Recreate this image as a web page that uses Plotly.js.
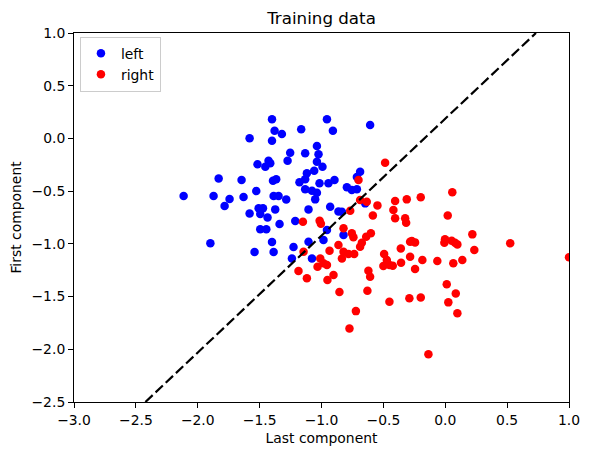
<!DOCTYPE html>
<html>
<head>
<meta charset="utf-8">
<script src="https://cdn.plot.ly/plotly-3.0.1.min.js"></script>
<style>html,body{margin:0;padding:0;background:#fff;}#chart{width:589px;height:455px;}</style>
</head>
<body>
<div id="chart"></div>
<script>
const leftX = [-1.400,-1.379,-1.320,-1.581,-1.400,-1.164,-1.253,-1.274,-1.517,-1.428,-1.454,-1.414,-1.831,-1.646,-1.392,-1.366,-1.178,-1.527,-2.114,-1.872,-1.743,-1.630,-1.387,-1.347,-1.285,-1.783,-1.581,-1.508,-1.473,-1.495,-1.436,-1.374,-1.339,-1.495,-1.446,-1.212,-1.898,-1.400,-1.541,-1.387,-1.226,-1.239,-0.956,-0.908,-0.607,-1.132,-1.037,-1.024,-1.037,-0.992,-1.118,-1.059,-1.132,-1.016,-0.944,-0.895,-1.132,-1.077,-1.037,-1.051,-0.795,-0.755,-0.714,-0.688,-0.714,-1.105,-0.930,-0.863,-0.835,-0.647,-0.956,-0.822,-0.984,-1.105,-1.077];
const leftY = [0.181,0.073,0.042,0.001,-0.022,0.086,-0.136,-0.212,-0.246,-0.212,-0.268,-0.236,-0.379,-0.395,-0.401,-0.388,-0.415,-0.499,-0.546,-0.546,-0.575,-0.556,-0.546,-0.546,-0.580,-0.641,-0.711,-0.663,-0.663,-0.717,-0.749,-0.673,-0.812,-0.862,-0.862,-0.784,-0.995,-0.983,-1.078,-1.078,-1.030,-1.138,0.181,0.073,0.127,-0.141,-0.072,-0.151,-0.221,-0.268,-0.331,-0.306,-0.388,-0.426,-0.426,-0.395,-0.483,-0.496,-0.515,-0.578,-0.464,-0.490,-0.483,-0.316,-0.365,-0.673,-0.648,-0.692,-0.695,-0.616,-0.869,-0.917,-0.964,-0.980,-1.138];

const rightX = [-0.486,-0.701,-0.688,-0.634,-0.548,-0.405,-0.311,-0.768,-0.585,-0.419,-1.150,-1.015,-1.005,-0.405,-0.324,-0.316,-0.822,-0.755,-0.742,-0.639,-0.601,-0.674,-0.688,-0.284,-0.863,-0.935,-1.145,-0.822,-0.782,-0.736,-0.835,-0.359,-0.494,-1.010,-0.984,-1.032,-0.956,-0.472,-0.451,-0.500,-0.424,-0.357,-0.284,-1.186,-1.118,-0.903,-0.952,-0.621,-0.607,-0.855,-0.629,-0.451,-0.290,-0.722,-0.774,0.057,-0.198,0.020,0.219,-0.270,-0.244,-0.002,-0.007,0.052,0.098,0.079,0.235,0.525,-0.185,-0.244,-0.064,0.065,0.138,1.000,0.012,0.085,0.025,0.098,-0.198,-0.136];
const rightY = [-0.231,-0.395,-0.584,-0.601,-0.635,-0.594,-0.578,-0.686,-0.730,-0.679,-0.790,-0.780,-0.810,-0.758,-0.758,-0.800,-0.853,-0.900,-0.938,-0.933,-0.900,-0.990,-1.028,-0.980,-1.011,-1.065,-1.075,-1.075,-1.097,-1.097,-1.138,-1.043,-1.097,-1.138,-1.185,-1.217,-1.201,-1.154,-1.201,-1.211,-1.208,-1.179,-1.122,-1.258,-1.327,-1.296,-1.343,-1.255,-1.312,-1.457,-1.445,-1.549,-1.517,-1.638,-1.802,-0.511,-0.559,-0.730,-0.910,-0.973,-0.986,-0.957,-0.990,-0.971,-1.005,-0.990,-1.059,-0.995,-1.154,-1.239,-1.163,-1.185,-1.154,-1.128,-1.384,-1.470,-1.555,-1.659,-1.508,-2.046];

const boundaryX = [-2.423, 0.733];
const boundaryY = [-2.5, 1.0];

const seriesNames = ['left', 'right'];
const xTickVals = [-3.0,-2.5,-2.0,-1.5,-1.0,-0.5,0.0,0.5,1.0];
const yTickVals = [-2.5,-2.0,-1.5,-1.0,-0.5,0.0,0.5,1.0];

const font = 'DejaVu Sans, sans-serif';

const traces = [
  {x: leftX, y: leftY, mode: 'markers', type: 'scatter', name: seriesNames[0],
   marker: {color: '#0000ff', size: 8.5}},
  {x: rightX, y: rightY, mode: 'markers', type: 'scatter', name: seriesNames[1],
   marker: {color: '#ff0000', size: 8.5}},
  {x: boundaryX, y: boundaryY, mode: 'lines', type: 'scatter', showlegend: false,
   line: {color: '#000000', width: 2.2, dash: '10px,4px'}, hoverinfo: 'skip'}
];

const axisCommon = {
  showgrid: false, zeroline: false, showline: true, mirror: true,
  linecolor: '#000', linewidth: 1, ticks: 'outside', ticklen: 5, tickwidth: 1,
  tickcolor: '#000', tickformat: '.1f', tickfont: {family: font, size: 13.9, color: '#000'},
  automargin: false
};

const layout = {
  width: 589, height: 455,
  margin: {l: 74, r: 20, t: 33, b: 53, pad: 0},
  paper_bgcolor: '#fff', plot_bgcolor: '#fff',
  font: {family: font, color: '#000'},
  title: {text: 'Training data', font: {family: font, size: 16.7, color: '#000'},
          x: 0.5, xref: 'paper', y: 1 - 18/455, yref: 'container', yanchor: 'middle'},
  xaxis: Object.assign({}, axisCommon, {
    range: [-3, 1], tickvals: xTickVals,
    title: {text: 'Last component', font: {family: font, size: 13.9, color: '#000'}, standoff: 6}
  }),
  yaxis: Object.assign({}, axisCommon, {
    range: [-2.5, 1], tickvals: yTickVals,
    title: {text: 'First component', font: {family: font, size: 13.9, color: '#000'}, standoff: 6}
  }),
  showlegend: true,
  legend: {x: 0.012, y: 0.99, xanchor: 'left', yanchor: 'top',
           bgcolor: 'rgba(255,255,255,0.8)', bordercolor: '#cccccc', borderwidth: 1,
           font: {family: font, size: 13.9, color: '#000'}, tracegroupgap: 0}
};

Plotly.newPlot('chart', traces, layout, {staticPlot: true, displayModeBar: false});
</script>
</body>
</html>
